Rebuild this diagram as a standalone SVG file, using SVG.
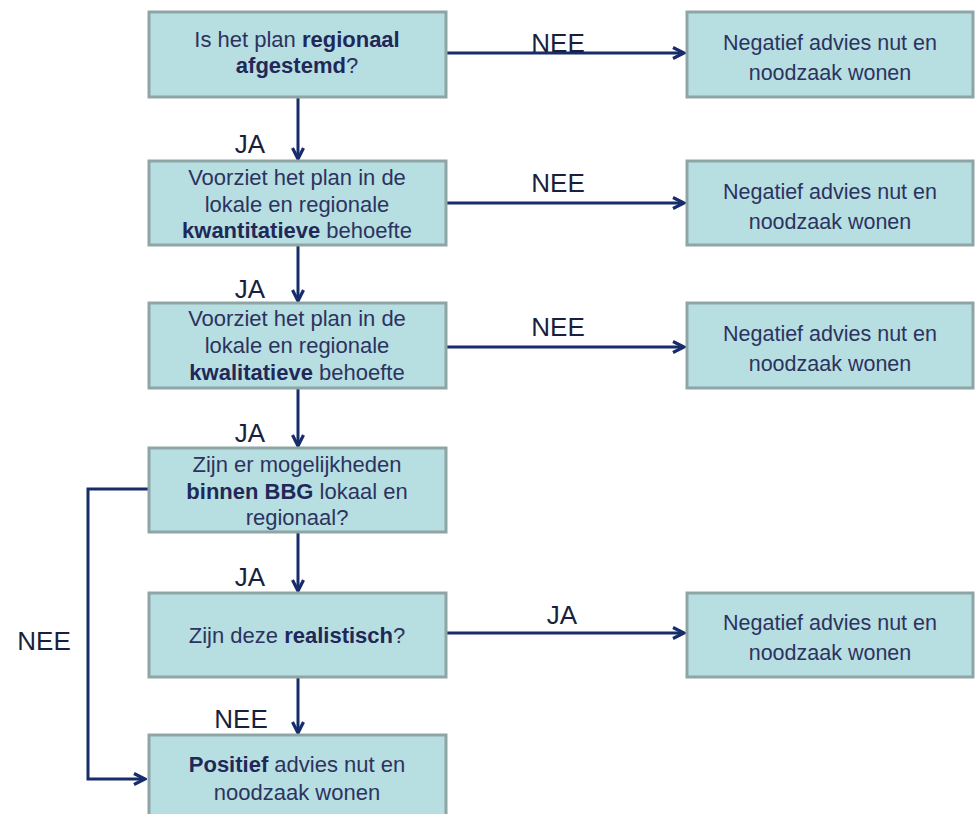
<svg xmlns="http://www.w3.org/2000/svg" width="975" height="814" viewBox="0 0 975 814">
<style>
.box{fill:#b7dee1;stroke:#8fa5a5;stroke-width:3}
.t{font-family:"Liberation Sans",Arial,sans-serif;font-size:22px;fill:#2c335f;text-anchor:middle}
.r{font-size:21.5px}
.b{font-weight:bold;fill:#1f2858}
.lbl{font-family:"Liberation Sans",Arial,sans-serif;font-size:26px;fill:#1a1f3d;text-anchor:middle}
.c{fill:none;stroke:#172d6b;stroke-width:3}
</style>
<defs>
<marker id="ah" viewBox="0 0 14 14" refX="12.5" refY="7" markerWidth="14" markerHeight="14" markerUnits="userSpaceOnUse" orient="auto">
<polyline points="1.5,1.5 12.5,7 1.5,12.5" fill="none" stroke="#172d6b" stroke-width="3.2"/>
</marker>
</defs>
<rect width="975" height="814" fill="#ffffff"/>
<g id="connectors">
<line class="c" x1="447" y1="53" x2="684" y2="53" marker-end="url(#ah)"/>
<line class="c" x1="447" y1="203" x2="684" y2="203" marker-end="url(#ah)"/>
<line class="c" x1="447" y1="347" x2="684" y2="347" marker-end="url(#ah)"/>
<line class="c" x1="447" y1="633" x2="684" y2="633" marker-end="url(#ah)"/>
<line class="c" x1="298" y1="98" x2="298" y2="159" marker-end="url(#ah)"/>
<line class="c" x1="298" y1="246" x2="298" y2="301" marker-end="url(#ah)"/>
<line class="c" x1="298" y1="389" x2="298" y2="446" marker-end="url(#ah)"/>
<line class="c" x1="298" y1="533" x2="298" y2="591" marker-end="url(#ah)"/>
<line class="c" x1="298" y1="678" x2="298" y2="733" marker-end="url(#ah)"/>
<polyline class="c" points="148,489 88,489 88,779 145,779" marker-end="url(#ah)"/>
<text class="lbl" x="558" y="52">NEE</text>
<text class="lbl" x="558" y="192">NEE</text>
<text class="lbl" x="558" y="336">NEE</text>
<text class="lbl" x="562" y="624">JA</text>
<text class="lbl" x="250" y="153">JA</text>
<text class="lbl" x="250" y="298">JA</text>
<text class="lbl" x="250" y="442">JA</text>
<text class="lbl" x="250" y="586">JA</text>
<text class="lbl" x="241" y="728">NEE</text>
<text class="lbl" x="44" y="650">NEE</text>
</g>
<g id="q1">
<rect class="box" x="149" y="12" width="297" height="85"/>
<text class="t" x="297" y="47">Is het plan <tspan class="b">regionaal</tspan></text>
<text class="t" x="297" y="73"><tspan class="b">afgestemd</tspan>?</text>
</g>
<g id="n1">
<rect class="box" x="687" y="12" width="286" height="85"/>
<text class="t r" x="830" y="50">Negatief advies nut en</text>
<text class="t r" x="830" y="80">noodzaak wonen</text>
</g>
<g id="q2">
<rect class="box" x="149" y="161" width="297" height="84"/>
<text class="t" x="297" y="185">Voorziet het plan in de</text>
<text class="t" x="297" y="212">lokale en regionale</text>
<text class="t" x="297" y="238"><tspan class="b">kwantitatieve</tspan> behoefte</text>
</g>
<g id="n2">
<rect class="box" x="687" y="161" width="286" height="84"/>
<text class="t r" x="830" y="199">Negatief advies nut en</text>
<text class="t r" x="830" y="229">noodzaak wonen</text>
</g>
<g id="q3">
<rect class="box" x="149" y="303" width="297" height="85"/>
<text class="t" x="297" y="326">Voorziet het plan in de</text>
<text class="t" x="297" y="353">lokale en regionale</text>
<text class="t" x="297" y="380"><tspan class="b">kwalitatieve</tspan> behoefte</text>
</g>
<g id="n3">
<rect class="box" x="687" y="303" width="286" height="85"/>
<text class="t r" x="830" y="341">Negatief advies nut en</text>
<text class="t r" x="830" y="371">noodzaak wonen</text>
</g>
<g id="q4">
<rect class="box" x="149" y="448" width="297" height="84"/>
<text class="t" x="297" y="472">Zijn er mogelijkheden</text>
<text class="t" x="297" y="499"><tspan class="b">binnen BBG</tspan> lokaal en</text>
<text class="t" x="297" y="525">regionaal?</text>
</g>
<g id="q5">
<rect class="box" x="149" y="593" width="297" height="84"/>
<text class="t" x="297" y="643">Zijn deze <tspan class="b">realistisch</tspan>?</text>
</g>
<g id="n5">
<rect class="box" x="687" y="593" width="286" height="84"/>
<text class="t r" x="830" y="630">Negatief advies nut en</text>
<text class="t r" x="830" y="660">noodzaak wonen</text>
</g>
<g id="p1">
<rect class="box" x="149" y="735" width="297" height="90"/>
<text class="t" x="297" y="772"><tspan class="b">Positief</tspan> advies nut en</text>
<text class="t" x="297" y="800">noodzaak wonen</text>
</g>
</svg>
